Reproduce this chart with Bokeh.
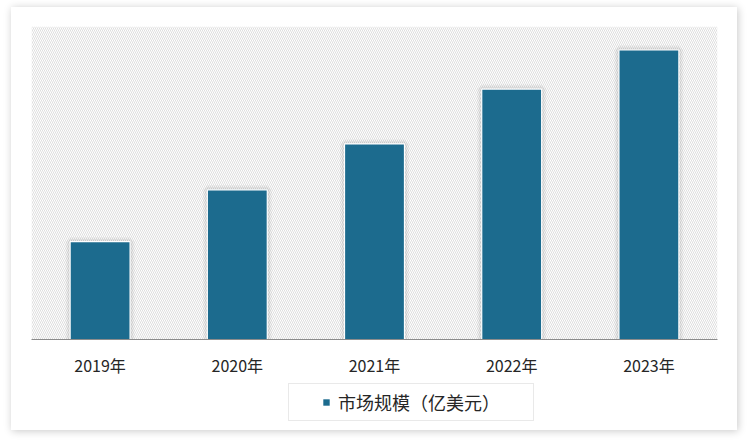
from bokeh.plotting import figure
from bokeh.layouts import column
from bokeh.models import (ColumnDataSource, FactorRange, Range1d, BoxAnnotation,
                          Legend, LegendItem)
from bokeh.embed import file_html
from bokeh.resources import INLINE

years = ["2019年", "2020年", "2021年", "2022年", "2023年"]
market_size = [100, 153, 200, 256, 296]
series_name = "市场规模（亿美元）"

BAR_COLOR = "#1c6b8e"
FONT = "Noto Sans CJK SC"

src = ColumnDataSource(data=dict(year=years, value=market_size))

p = figure(width=726, height=375, x_range=FactorRange(factors=years),
           y_range=Range1d(0, 320), output_backend="svg", toolbar_location=None,
           min_border_left=20, min_border_right=20, min_border_top=19,
           min_border_bottom=43)

p.background_fill_color = "white"
p.border_fill_color = "white"
p.outline_line_color = None
p.grid.visible = False
p.yaxis.visible = False

hatch = BoxAnnotation(fill_color=None, fill_alpha=0, line_color=None,
                      hatch_pattern="\\", hatch_color="#dedede",
                      hatch_scale=4, hatch_weight=1, level="underlay")
p.add_layout(hatch)

# soft shadow around bars
p.vbar(x="year", top="value", width=0.437, source=src, fill_color=None,
       line_color="black", line_alpha=0.04, line_width=9)
p.vbar(x="year", top="value", width=0.437, source=src, fill_color=None,
       line_color="black", line_alpha=0.05, line_width=5)
p.vbar(x="year", top="value", width=0.437, source=src, fill_color=BAR_COLOR,
       line_color="white", line_width=1.2)

ax = p.xaxis[0]
ax.axis_line_color = "#8c8c8c"
ax.axis_line_width = 1
ax.major_tick_line_color = None
ax.minor_tick_line_color = None
ax.major_tick_out = 0
ax.major_tick_in = 0
ax.major_label_standoff = 13
ax.major_label_text_font = FONT
ax.major_label_text_font_size = "16px"
ax.major_label_text_color = "#262626"

# legend strip below the chart (hidden renderers only feed the legend swatch)
q = figure(width=726, height=48, x_range=FactorRange(factors=years),
           y_range=Range1d(0, 320), output_backend="svg", toolbar_location=None,
           min_border=0, min_border_left=0, min_border_right=0,
           min_border_top=0, min_border_bottom=0)
q.axis.visible = False
q.grid.visible = False
q.outline_line_color = None
q.background_fill_color = "white"
q.border_fill_color = "white"

blank = q.vbar(x="year", top="value", width=0.4, source=src,
               fill_alpha=0, line_alpha=0, visible=False)
swatch = q.vbar(x="year", top="value", width=0.4, source=src,
                fill_color=BAR_COLOR, line_color=None, visible=False)
legend = Legend(items=[LegendItem(label=" ", renderers=[blank]),
                       LegendItem(label=series_name, renderers=[swatch]),
                       LegendItem(label=" ", renderers=[blank])],
                orientation="horizontal", location=(257, 9),
                glyph_width=8, glyph_height=8, label_standoff=8,
                label_width=0, label_height=17, padding=5, spacing=12,
                label_text_font=FONT, label_text_font_size="18px",
                label_text_color="#262626", border_line_color="#d4d4d4",
                border_line_width=1, background_fill_color="white",
                background_fill_alpha=1, inactive_fill_alpha=0, margin=0)
q.add_layout(legend, "center")

layout = column(p, q, spacing=0, margin=(7, 0, 0, 11),
                styles={"box-shadow": "1px 1px 8px rgba(0,0,0,0.22)",
                        "background-color": "white"})

open("out.html", "w").write(file_html(layout, INLINE))
